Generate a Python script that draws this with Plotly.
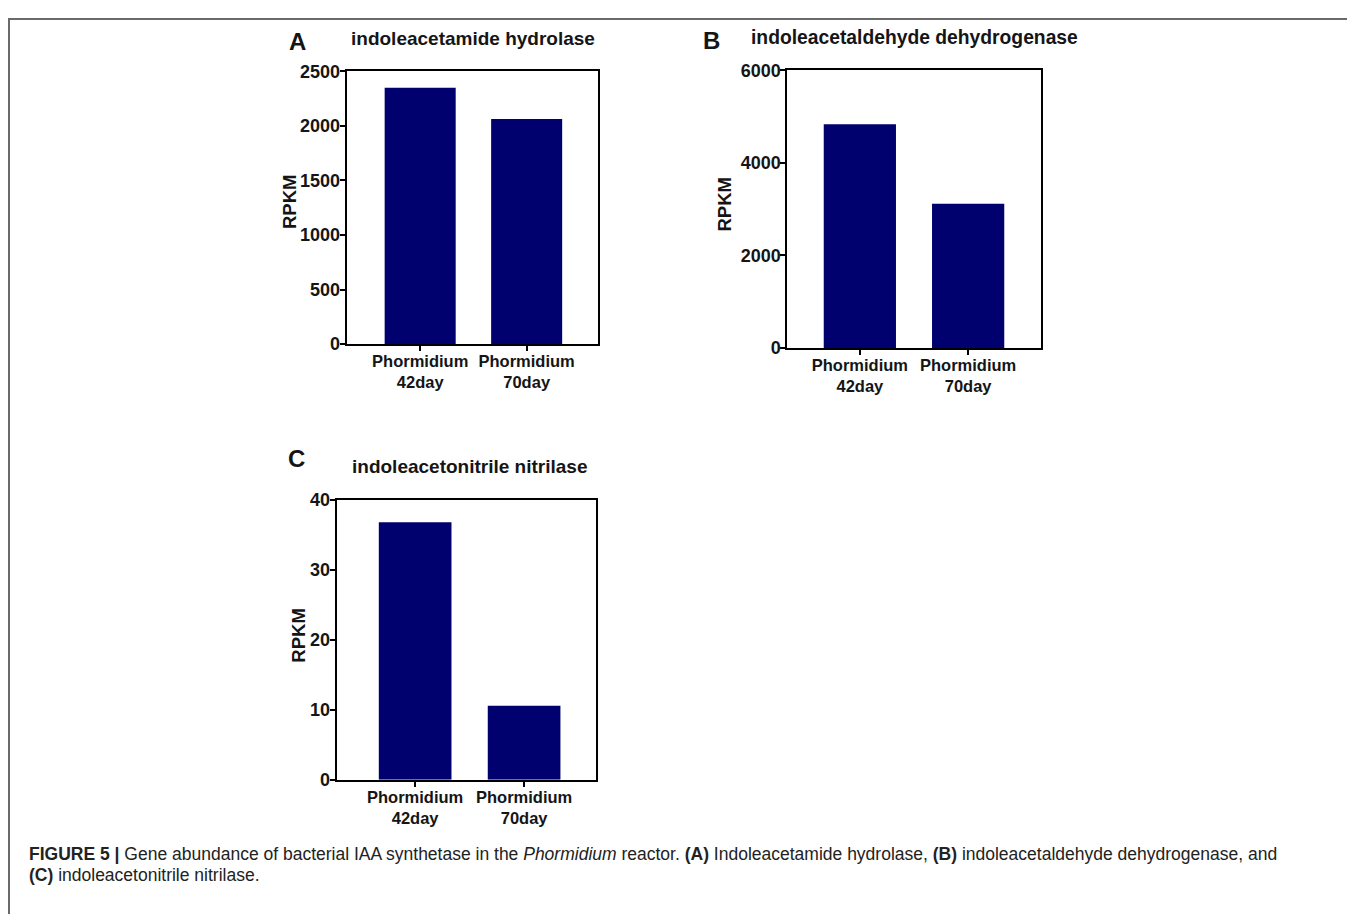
import plotly.graph_objects as go

# Empirical mapping from figure pixels to the photographed window:
#   window_x = 8 + fig_x ;  window_y = 16 + 0.978 * fig_y
OFFX = 8
OFFY, SY = 16.0, 0.978
W, H = 1355 - OFFX, 918

categories = ["Phormidium<br>42day", "Phormidium<br>70day"]
values_a = [2350, 2063]
values_b = [4833, 3118]
values_c = [36.8, 10.6]
titles = ["indoleacetamide hydrolase", "indoleacetaldehyde dehydrogenase", "indoleacetonitrile nitrilase"]
letters = ["A", "B", "C"]
yticks_a = [0, 500, 1000, 1500, 2000, 2500]
yticks_b = [0, 2000, 4000, 6000]
yticks_c = [0, 10, 20, 30, 40]
ylabel = "RPKM"
caption_line1 = ("<b>FIGURE 5 |</b> Gene abundance of bacterial IAA synthetase in the <i>Phormidium</i> reactor. "
                 "<b>(A)</b> Indoleacetamide hydrolase, <b>(B)</b> indoleacetaldehyde dehydrogenase, and")
caption_line2 = "<b>(C)</b> indoleacetonitrile nitrilase."

BAR = "#00006E"
FONT = "Liberation Sans"
TXT = "#151515"


def px(x):
    return (x - OFFX) / W


def py(y):
    fy = (y - OFFY) / SY
    return 1 - fy / H


panels = [
    # values, ticks, x-domain (window px), y-domain (top, bottom window px), x range
    (values_a, yticks_a, (346.7, 598.0), (69.3, 342.0), (-0.69, 1.67)),
    (values_b, yticks_b, (787.3, 1040.7), (68.3, 346.0), (-0.67, 1.67)),
    (values_c, yticks_c, (336.7, 596.0), (497.7, 777.7), (-0.72, 1.66)),
]

fig = go.Figure()
layout = dict(
    width=W, height=H,
    margin=dict(l=0, r=0, t=0, b=0),
    paper_bgcolor="white", plot_bgcolor="white",
    showlegend=False,
)

for i, (vals, ticks, xd, yd, xr) in enumerate(panels):
    n = "" if i == 0 else str(i + 1)
    fig.add_trace(go.Bar(
        x=[0, 1], y=vals, width=0.667,
        marker=dict(color=BAR, line=dict(width=0)),
        xaxis="x" + n, yaxis="y" + n,
        hoverinfo="y",
    ))
    layout["xaxis" + n] = dict(
        domain=[px(xd[0]), px(xd[1])], anchor="y" + n,
        range=list(xr), tickmode="array", tickvals=[0, 1], ticktext=categories,
        showline=True, linecolor="black", linewidth=2, mirror=True,
        ticks="outside", ticklen=5, tickwidth=2, tickcolor="black",
        ticklabelstandoff=-4,
        showgrid=False, zeroline=False, fixedrange=True,
        tickfont=dict(family=FONT, size=16.5, color=TXT, weight="bold"),
    )
    layout["yaxis" + n] = dict(
        domain=[py(yd[1]), py(yd[0])], anchor="x" + n,
        range=[0, ticks[-1]], tickmode="array", tickvals=ticks,
        showline=True, linecolor="black", linewidth=2, mirror=True,
        ticks="outside", ticklen=5, tickwidth=2, tickcolor="black",
        ticklabelstandoff=-4,
        showgrid=False, zeroline=False, fixedrange=True,
        tickfont=dict(family=FONT, size=18, color=TXT, weight="bold"),
    )

annotations = []
title_pos = [(473, 36), (914, 35), (469, 464)]
title_size = [19, 19.3, 19]
letter_pos = [(297, 39), (711, 38.5), (296, 456)]
ylab_pos = [(289.5, 200.5), (725, 202.5), (299, 633.5)]
for i in range(3):
    annotations.append(dict(
        text="<b>%s</b>" % titles[i], x=px(title_pos[i][0]), y=py(title_pos[i][1]),
        xref="paper", yref="paper", showarrow=False, xanchor="center", yanchor="middle",
        font=dict(family=FONT, size=title_size[i], color=TXT)))
    annotations.append(dict(
        text="<b>%s</b>" % letters[i], x=px(letter_pos[i][0]), y=py(letter_pos[i][1]),
        xref="paper", yref="paper", showarrow=False, xanchor="center", yanchor="middle",
        font=dict(family=FONT, size=24, color=TXT)))
    annotations.append(dict(
        text="<b>%s</b>" % ylabel, x=px(ylab_pos[i][0]), y=py(ylab_pos[i][1]),
        xref="paper", yref="paper", showarrow=False, xanchor="center", yanchor="middle",
        textangle=-90, font=dict(family=FONT, size=18.5, color=TXT)))

for txt, yc in ((caption_line1, 852), (caption_line2, 873)):
    annotations.append(dict(
        text=txt, x=px(26.7), y=py(yc), xref="paper", yref="paper", showarrow=False,
        xanchor="left", yanchor="middle", align="left",
        font=dict(family=FONT, size=17.5, color="#222222")))

layout["annotations"] = annotations
layout["shapes"] = [dict(
    type="rect", xref="paper", yref="paper",
    x0=px(9), x1=px(1354), y0=-0.05, y1=1 - 1.0 / H,
    line=dict(color="#6a6a6a", width=2), fillcolor="rgba(0,0,0,0)")]

fig.update_layout(**layout)
fig.write_html("out.html")
